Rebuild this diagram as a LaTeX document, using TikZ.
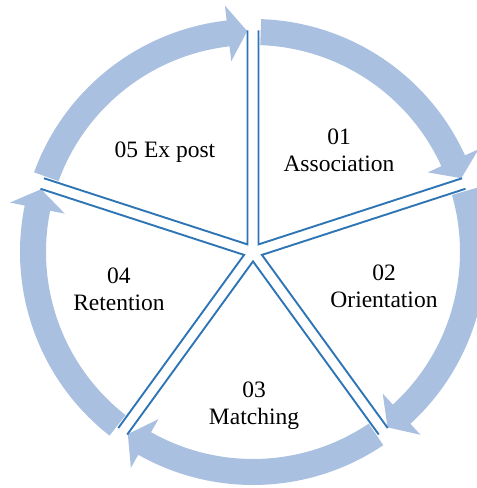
\documentclass[tikz,border=0pt]{standalone}
\usepackage{fontspec}
\setmainfont{Liberation Serif}
\usepackage{tikz}
\usetikzlibrary{calc}

\definecolor{bandblue}{RGB}{170,192,225}
\definecolor{spokeblue}{RGB}{46,117,182}

\tikzset{
    band/.style={fill=bandblue},
    spoke/.style={draw=spokeblue, line width=1.9pt, line join=miter},
    phase/.style={align=center, font=\fontsize{23.5}{27}\selectfont}
}

\begin{document}
\begin{tikzpicture}[x=1pt,y=1pt]

    \useasboundingbox (0,0) rectangle (477,488);

    \begin{scope}[shift={(253,236)}]

    % cycle arrows (body 207..233, head 192..248)
    \fill[band] (88:207) arc[start angle=88, end angle=24.5, radius=207] -- (24.5:192) -- (19.5:221) -- (24.5:248) -- (24.5:233) arc[start angle=24.5, end angle=88, radius=233] -- cycle; % top -> right
    \fill[band] (16:207) arc[start angle=16, end angle=-47.5, radius=207] -- (-47.5:192) -- (-52.5:221) -- (-47.5:248) -- (-47.5:233) arc[start angle=-47.5, end angle=16, radius=233] -- cycle; % right -> lower right
    \fill[band] (-56:207) arc[start angle=-56, end angle=-119.5, radius=207] -- (-119.5:192) -- (-124.5:221) -- (-119.5:248) -- (-119.5:233) arc[start angle=-119.5, end angle=-56, radius=233] -- cycle; % lower right -> lower left
    \fill[band] (-128:207) arc[start angle=-128, end angle=-191.5, radius=207] -- (-191.5:192) -- (-196.5:221) -- (-191.5:248) -- (-191.5:233) arc[start angle=-191.5, end angle=-128, radius=233] -- cycle; % lower left -> left
    \fill[band] (160:207) arc[start angle=160, end angle=96.5, radius=207] -- (96.5:192) -- (91.5:221) -- (96.5:248) -- (96.5:233) arc[start angle=96.5, end angle=160, radius=233] -- cycle; % left -> top

    % double spokes, one corner per sector
    \draw[spoke] ($(54:9.4)+(90:214)$) -- (54:9.4) -- ($(54:9.4)+(18:214)$);
    \draw[spoke] ($(-18:9.4)+(18:214)$) -- (-18:9.4) -- ($(-18:9.4)+(-54:214)$);
    \draw[spoke] ($(-90:9.4)+(-54:214)$) -- (-90:9.4) -- ($(-90:9.4)+(-126:214)$);
    \draw[spoke] ($(-162:9.4)+(-126:214)$) -- (-162:9.4) -- ($(-162:9.4)+(162:214)$);
    \draw[spoke] ($(126:9.4)+(162:214)$) -- (126:9.4) -- ($(126:9.4)+(90:214)$);

    \end{scope}

    % phase labels
    \node[phase] (assoc) at (339,338) {01\\Association};
    \node[phase] (orient) at (384,202) {02\\Orientation};
    \node[phase] (match) at (254,82) {03\\Matching};
    \node[phase] (retent) at (119,199) {04\\Retention};
    \node[phase] (expost) at (165,336) {05 Ex post};

\end{tikzpicture}
\end{document}
